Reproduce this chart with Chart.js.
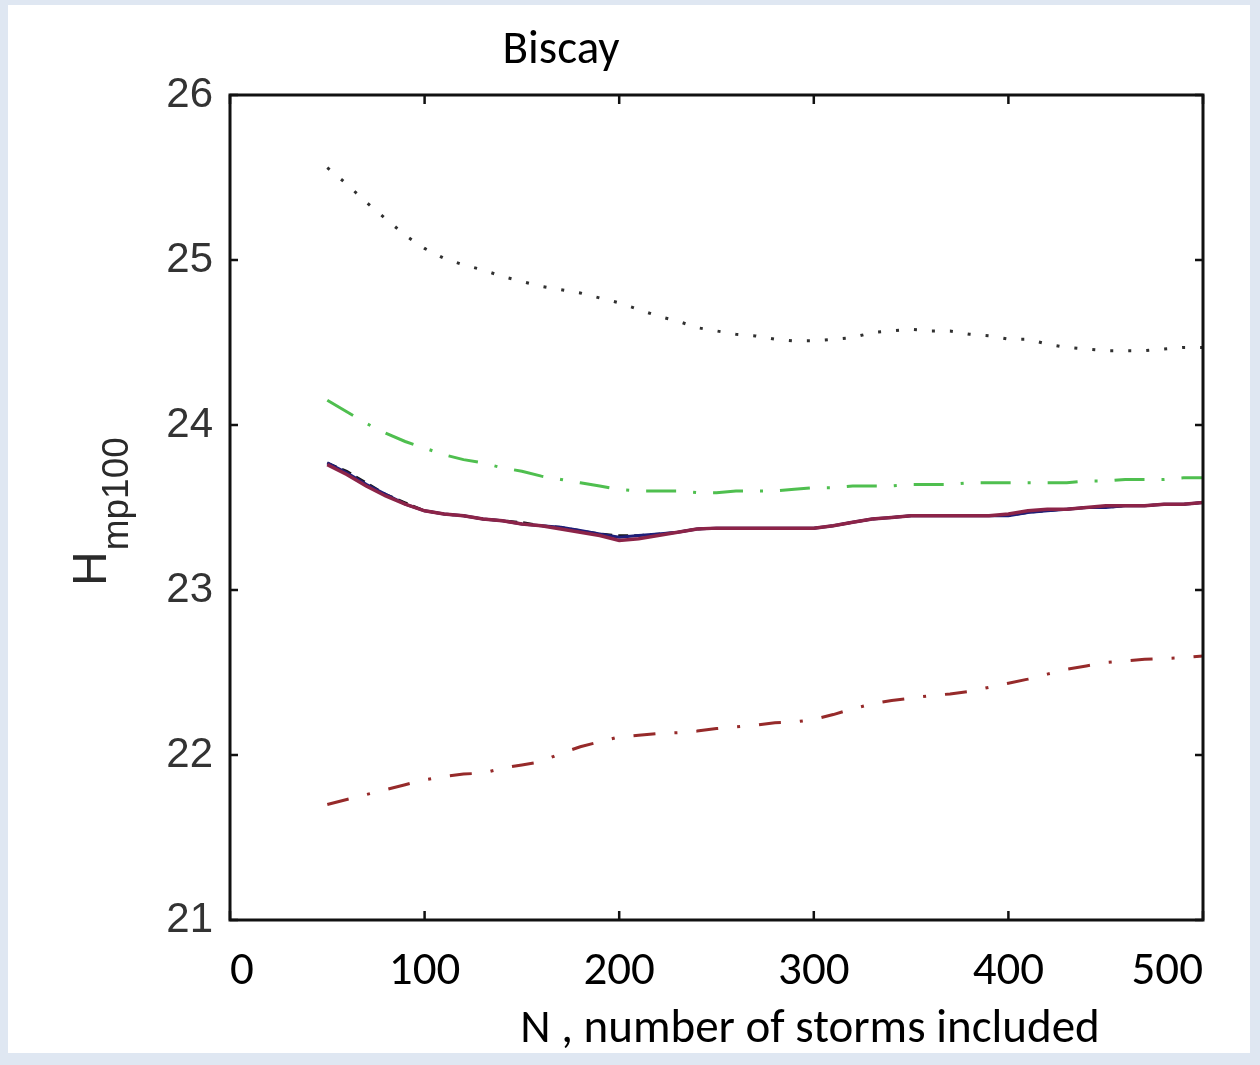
<!DOCTYPE html>
<html>
<head>
<meta charset="utf-8">
<script src="https://cdn.jsdelivr.net/npm/chart.js@4"></script>
<style>
  html, body { margin: 0; padding: 0; background: #dfe7f2; }
  #wrap { position: absolute; left: 0; top: 0; width: 1260px; height: 1065px; }
</style>
</head>
<body>
<div id="wrap"><canvas id="chart"></canvas></div>
<script>
var chartTitle = 'Biscay';
var xTitle = 'N , number of storms included';
var yTitleMain = 'H';
var yTitleSub = 'mp100';

var xTicks = [0, 100, 200, 300, 400, 500];
var yTicks = [21, 22, 23, 24, 25, 26];

// number of storms N
var stormCounts = [50, 60, 70, 80, 90, 100, 110, 120, 130, 140, 150, 160, 170, 180, 190, 200,
  210, 220, 230, 240, 250, 260, 270, 280, 290, 300, 310, 320, 330, 340, 350, 360, 370, 380, 390, 400,
  410, 420, 430, 440, 450, 460, 470, 480, 490, 500];

var upperDotted = [25.56, 25.46, 25.35, 25.25, 25.15, 25.07, 25.01, 24.97, 24.94, 24.90, 24.87, 24.84, 24.82, 24.80, 24.77, 24.74,
  24.70, 24.66, 24.63, 24.59, 24.57, 24.55, 24.54, 24.52, 24.51, 24.51, 24.52, 24.53, 24.56, 24.57, 24.58, 24.57, 24.57, 24.55, 24.54, 24.52,
  24.52, 24.49, 24.47, 24.46, 24.45, 24.45, 24.45, 24.46, 24.47, 24.47];

var upperGreen = [24.15, 24.08, 24.01, 23.95, 23.90, 23.86, 23.82, 23.79, 23.77, 23.74, 23.72, 23.69, 23.67, 23.65, 23.63, 23.61,
  23.60, 23.60, 23.60, 23.59, 23.59, 23.60, 23.60, 23.60, 23.61, 23.62, 23.62, 23.63, 23.63, 23.63, 23.64, 23.64, 23.64, 23.65, 23.65, 23.65,
  23.65, 23.65, 23.65, 23.66, 23.66, 23.67, 23.67, 23.67, 23.68, 23.68];

var mainBlue = [23.77, 23.71, 23.64, 23.58, 23.52, 23.48, 23.46, 23.45, 23.43, 23.42, 23.40, 23.39, 23.38, 23.36, 23.34, 23.32,
  23.33, 23.34, 23.35, 23.37, 23.375, 23.375, 23.375, 23.375, 23.375, 23.375, 23.39, 23.41, 23.43, 23.44, 23.45, 23.45, 23.45, 23.45, 23.45, 23.45,
  23.47, 23.48, 23.49, 23.50, 23.50, 23.51, 23.51, 23.52, 23.52, 23.53];

var mainRed = [23.76, 23.70, 23.63, 23.57, 23.52, 23.48, 23.46, 23.45, 23.43, 23.42, 23.40, 23.39, 23.37, 23.35, 23.33, 23.30,
  23.31, 23.33, 23.35, 23.37, 23.375, 23.375, 23.375, 23.375, 23.375, 23.375, 23.39, 23.41, 23.43, 23.44, 23.45, 23.45, 23.45, 23.45, 23.45, 23.46,
  23.48, 23.49, 23.49, 23.50, 23.51, 23.51, 23.51, 23.52, 23.52, 23.53];

var mainDashed = [23.77, 23.72, 23.65, 23.58, 23.53, 23.48, 23.46, 23.45, 23.43, 23.42, 23.41, 23.39, 23.38, 23.36, 23.34, 23.33,
  23.33, 23.34, 23.35, 23.37, 23.375, 23.375, 23.375, 23.375, 23.375, 23.375, 23.39, 23.41, 23.43, 23.44, 23.45, 23.45, 23.45, 23.45, 23.45, 23.45,
  23.47, 23.48, 23.49, 23.50, 23.50, 23.51, 23.51, 23.52, 23.52, 23.53];

var lowerRed = [21.70, 21.73, 21.76, 21.79, 21.82, 21.85, 21.87, 21.885, 21.89, 21.92, 21.94, 21.96, 22.01, 22.05, 22.08, 22.11,
  22.12, 22.13, 22.135, 22.145, 22.16, 22.17, 22.18, 22.195, 22.20, 22.215, 22.245, 22.28, 22.31, 22.33, 22.345, 22.36, 22.37, 22.385, 22.41, 22.435,
  22.46, 22.49, 22.52, 22.54, 22.56, 22.57, 22.58, 22.585, 22.59, 22.60];

var toPoints = (values) => values.map((v, i) => ({ x: stormCounts[i], y: v }));

var series = [
  { label: 'upper dotted', data: upperDotted, color: '#303030', width: 3, dash: [3, 15] },
  { label: 'upper green', data: upperGreen, color: '#4fbf4f', width: 3, dash: [30, 17, 3, 17] },
  { label: 'main red', data: mainRed, color: '#8c2448', width: 3.5, dash: [] },
  { label: 'main blue', data: mainBlue, color: '#1e1e7a', width: 3, dash: [] },
  { label: 'main dashed', data: mainDashed, color: '#151515', width: 2.5, dash: [10, 6] },
  { label: 'lower red', data: lowerRed, color: '#962a2a', width: 3, dash: [22, 19, 3, 19] }
];

var datasets = series.map((s) => {
  return {
    label: s.label,
    data: toPoints(s.data),
    borderColor: s.color,
    borderWidth: s.width,
    borderDash: s.dash,
    borderCapStyle: 'butt',
    pointRadius: 0,
    tension: 0,
    fill: false
  };
});

var textFont = 'Carlito, Lato, sans-serif';
var tickFont = '"Liberation Sans", Arial, sans-serif';

// page panel, box frame with inward ticks, titles
var framePlugin = {
  id: 'frame',
  beforeDraw: (chart) => {
    var ctx = chart.ctx;
    ctx.save();
    ctx.fillStyle = '#dfe7f2';
    ctx.fillRect(0, 0, chart.width, chart.height);
    ctx.fillStyle = '#ffffff';
    ctx.fillRect(8, 5, chart.width - 18, chart.height - 17);
    ctx.restore();
  },
  afterDatasetsDraw: (chart) => {
    var ctx = chart.ctx;
    var a = chart.chartArea;
    var xs = chart.scales.x, ys = chart.scales.y;
    ctx.save();
    ctx.strokeStyle = '#111';
    ctx.lineWidth = 3;
    ctx.strokeRect(a.left, a.top, a.right - a.left, a.bottom - a.top);

    ctx.lineWidth = 2.5;
    ctx.beginPath();
    xTicks.forEach((t) => {
      var px = xs.getPixelForValue(t);
      ctx.moveTo(px, a.bottom); ctx.lineTo(px, a.bottom - 9);
      ctx.moveTo(px, a.top); ctx.lineTo(px, a.top + 9);
    });
    yTicks.forEach((t) => {
      var py = ys.getPixelForValue(t);
      ctx.moveTo(a.left, py); ctx.lineTo(a.left + 8, py);
      ctx.moveTo(a.right, py); ctx.lineTo(a.right - 8, py);
    });
    ctx.stroke();

    ctx.fillStyle = '#000';
    ctx.font = '47px ' + textFont;
    ctx.textAlign = 'center';
    ctx.textBaseline = 'alphabetic';
    ctx.fillText(chartTitle, 561, 63);
    ctx.fillText(xTitle, 810, 1042);

    // rotated H with subscript
    ctx.translate(106, 586);
    ctx.rotate(-Math.PI / 2);
    ctx.fillStyle = '#2a2a2a';
    ctx.textAlign = 'left';
    ctx.font = '48px ' + tickFont;
    ctx.fillText(yTitleMain, 0, 0);
    var w = ctx.measureText(yTitleMain).width;
    ctx.font = '37px ' + tickFont;
    ctx.fillText(yTitleSub, w + 1, 22);
    ctx.restore();
  }
};

new Chart(document.getElementById('chart'), {
  type: 'line',
  data: { datasets: datasets },
  plugins: [framePlugin],
  options: {
    responsive: true,
    maintainAspectRatio: false,
    animation: false,
    layout: { padding: { left: 0, top: 95, right: 57, bottom: 0 } },
    plugins: {
      legend: { display: false },
      tooltip: { enabled: false }
    },
    scales: {
      x: {
        type: 'linear',
        min: 0,
        max: 500,
        afterFit: (scale) => { scale.height = 145; },
        afterBuildTicks: (scale) => { scale.ticks = xTicks.map((v) => ({ value: v })); },
        grid: { display: false, drawTicks: false },
        border: { display: false },
        ticks: {
          autoSkip: false,
          maxRotation: 0,
          align: 'inner',
          padding: 24,
          color: '#000',
          font: { family: textFont, size: 47 }
        }
      },
      y: {
        type: 'linear',
        min: 21,
        max: 26,
        afterFit: (scale) => { scale.width = 230; },
        afterBuildTicks: (scale) => { scale.ticks = yTicks.map((v) => ({ value: v })); },
        grid: { display: false, drawTicks: false },
        border: { display: false },
        ticks: {
          padding: 17,
          color: '#333',
          font: { family: tickFont, size: 42 }
        }
      }
    }
  }
});
</script>
</body>
</html>
